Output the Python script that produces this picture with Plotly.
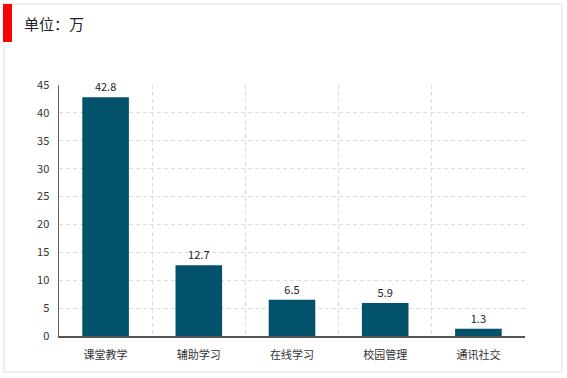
import plotly.graph_objects as go

categories = ["课堂教学", "辅助学习", "在线学习", "校园管理", "通讯社交"]
values = [42.8, 12.7, 6.5, 5.9, 1.3]
value_labels = ["42.8", "12.7", "6.5", "5.9", "1.3"]
unit_title = "单位：万"

W, H = 567, 378
L, R, T, B = 59, 525, 85, 336
pw, ph = R - L, B - T

def px(x):
    return (x - L) / pw

def py(y):
    return (B - y) / ph

font = "Noto Sans CJK SC"

fig = go.Figure(go.Bar(
    x=categories, y=values, text=value_labels, textposition="outside",
    marker=dict(color="#02526C", line=dict(width=0)),
    textfont=dict(family=font, size=11, color="#222"),
    cliponaxis=False,
))

fig.update_layout(
    width=W, height=H,
    margin=dict(l=L, r=W - R, t=T, b=H - B),
    paper_bgcolor="white", plot_bgcolor="white",
    bargap=0.5,
    showlegend=False,
    font=dict(family=font, size=11, color="#333"),
    xaxis=dict(
        type="category", tickson="boundaries", range=[-0.5, 4.5],
        showgrid=True, gridcolor="#dcdcdc", griddash="4px,3px", gridwidth=1,
        showline=True, linecolor="#555", linewidth=1.5,
        ticks="", ticklabelstandoff=8,
        tickfont=dict(family=font, size=11, color="#333"),
    ),
    yaxis=dict(
        range=[0, 45], dtick=5, showgrid=True, gridcolor="#dcdcdc",
        griddash="4px,3px", gridwidth=1, zeroline=False,
        showline=True, linecolor="#666", linewidth=1.5, ticks="",
        ticklabelstandoff=6,
        tickfont=dict(family=font, size=11, color="#333"),
    ),
    shapes=[
        dict(type="rect", xref="paper", yref="paper",
             x0=px(4), x1=px(562), y0=py(372), y1=py(4),
             line=dict(color="#dddddd", width=1), fillcolor="rgba(0,0,0,0)", layer="below"),
        dict(type="rect", xref="paper", yref="paper",
             x0=px(3), x1=px(12), y0=py(42), y1=py(4),
             line=dict(width=0), fillcolor="#ff0000"),
    ],
    annotations=[
        dict(text=unit_title, xref="paper", yref="paper", x=px(22), y=py(23),
             xanchor="left", yanchor="middle", showarrow=False,
             font=dict(family=font, size=15, color="#222")),
    ],
)

fig.write_html(
    "out.html",
    config={"displayModeBar": False, "staticPlot": True},
    post_script="document.body.style.margin='0';document.body.style.overflow='hidden';",
)
